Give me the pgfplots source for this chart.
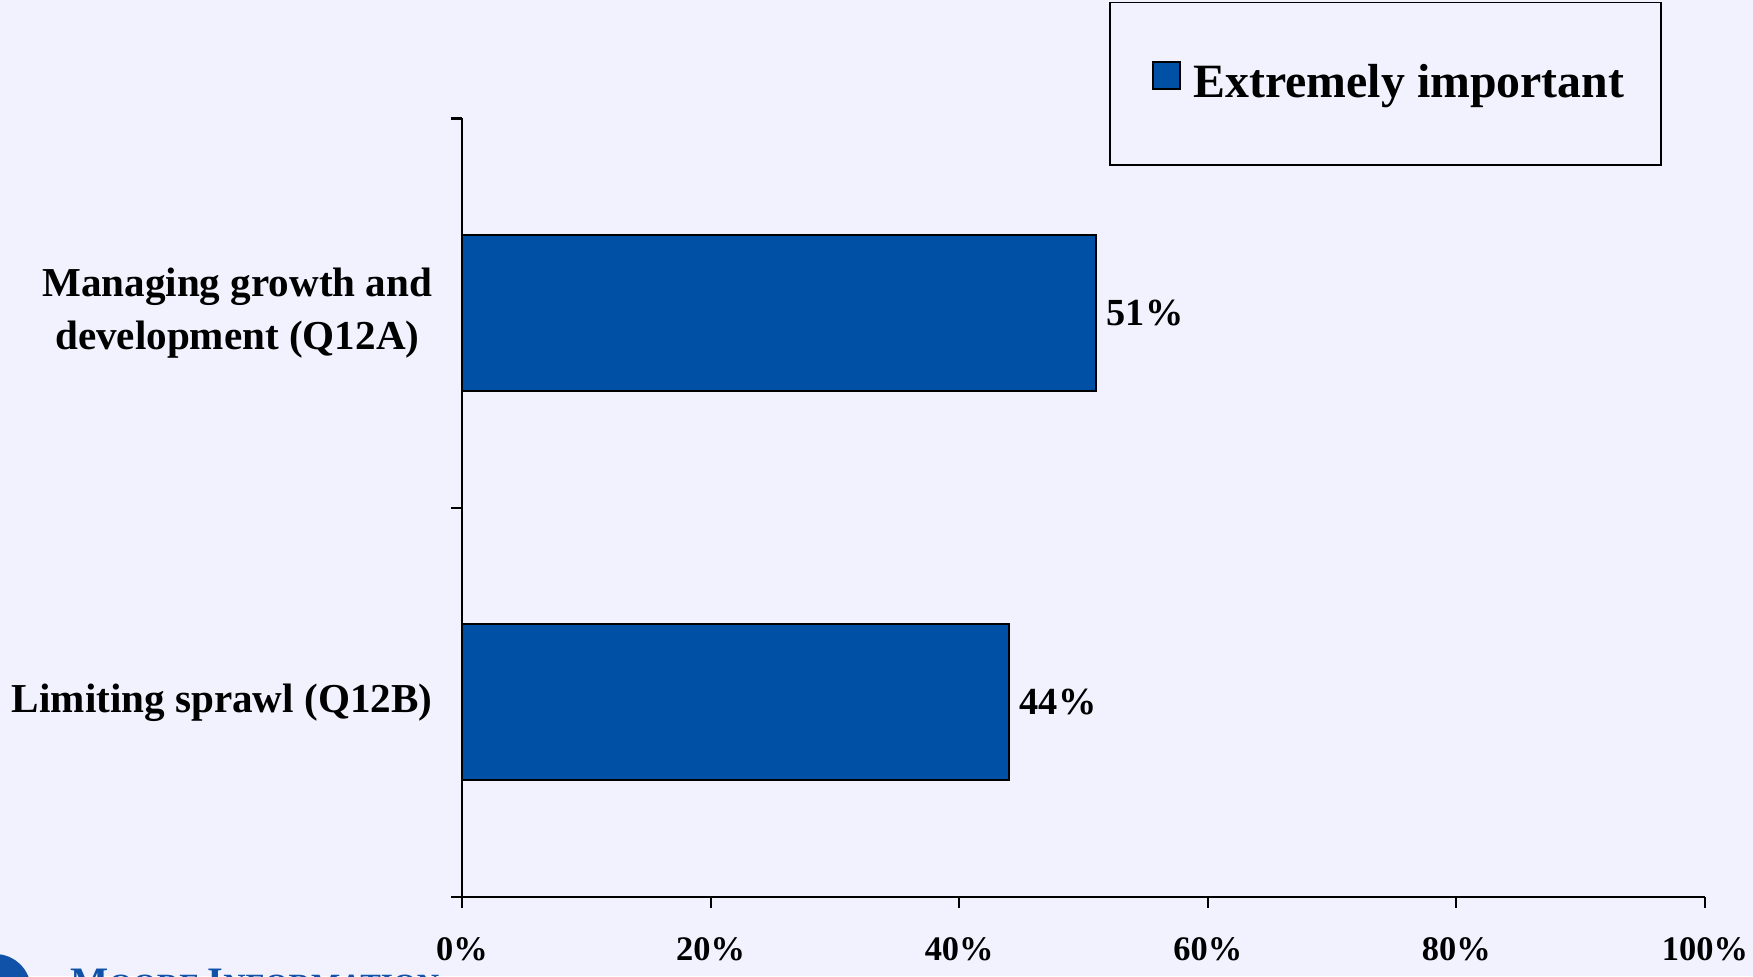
\documentclass[border=0pt]{standalone}
\usepackage{fontspec}
\setmainfont{Liberation Serif}
\usepackage{pgfplots}
\pgfplotsset{compat=1.18}
\definecolor{bg}{RGB}{242,242,255}
\definecolor{barblue}{RGB}{0,81,165}
\definecolor{logoblue}{RGB}{16,82,168}
\begin{document}
\begin{tikzpicture}
\clip (0,0) rectangle (175.3mm,97.6mm);
\fill[bg] (0,0) rectangle (175.3mm,97.6mm);
% logo (cut off at the bottom edge, as in the reference)
\fill[logoblue] (-0.5mm,-1.4mm) circle (3.6mm);
\node[anchor=base west, inner sep=0pt, text=logoblue, font=\bfseries] at (7mm,-1.9mm)
  {\fontsize{11.5}{13}\selectfont M\fontsize{8.8}{10}\selectfont OORE \fontsize{11.5}{13}\selectfont I\fontsize{8.8}{10}\selectfont NFORMATION};
\begin{axis}[
  at={(46.2mm,7.9mm)}, anchor=south west,
  scale only axis, width=124.3mm, height=77.85mm,
  xbar, bar width=15.6mm,
  xmin=0, xmax=100, ymin=0.5, ymax=2.5,
  axis x line*=bottom, axis y line*=left,
  axis line style={black, line width=0.6pt, -},
  tick style={black, line width=0.6pt},
  tick align=outside,
  major tick length=1.1mm,
  xtick={0,20,40,60,80,100},
  xticklabel={\pgfmathprintnumber{\tick}\%},
  /pgf/number format/assume math mode=true,
  xticklabel style={font=\fontsize{9.8}{11}\selectfont\bfseries, inner sep=0pt, yshift=-2.9mm},
  ytick={0.5,1.5,2.5},
  yticklabels={},
  extra y ticks={1,2},
  extra y tick labels={Limiting sprawl (Q12B), {Managing growth and\\development (Q12A)}},
  extra y tick style={major tick length=0pt,
     yticklabel style={align=center, inner sep=0pt, xshift=-2.9mm,
       font=\fontsize{11.7}{14.9}\selectfont\bfseries}},
  nodes near coords={\pgfmathprintnumber{\pgfplotspointmeta}\%},
  nodes near coords style={font=\fontsize{10.9}{12}\selectfont\bfseries, anchor=west, inner sep=0pt, xshift=1mm, text=black},
  legend style={at={(0.5205,1.150)}, anchor=north west, draw=black, line width=0.5pt, fill=none,
     inner xsep=3.0mm, inner ysep=5.5mm, font=\fontsize{13.6}{15}\selectfont\bfseries,
     /tikz/every odd column/.append style={column sep=0.6mm}},
  legend image code/.code={\path (0mm,0mm); \draw[fill=barblue, draw=black, line width=0.5pt] (1.2mm,-0.55mm) rectangle (3.9mm,2.15mm);},
  clip=false,
]
\addplot[fill=barblue, draw=black, line width=0.5pt] coordinates {(44,1) (51,2)};
\addlegendentry{Extremely important}
\end{axis}
\end{tikzpicture}
\end{document}
